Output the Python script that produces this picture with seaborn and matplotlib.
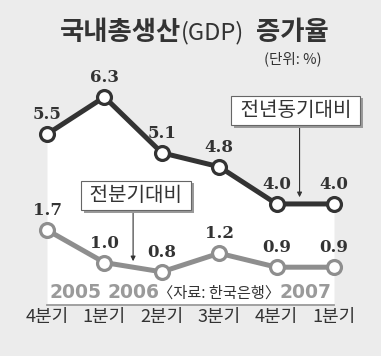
import numpy as np
import matplotlib.pyplot as plt
import matplotlib.patheffects as pe
import seaborn as sns

sns.set_style('white')
plt.rcParams['font.family'] = ['Noto Sans CJK KR', 'DejaVu Sans']

# data
quarters = ['4분기', '1분기', '2분기', '3분기', '4분기', '1분기']
yoy = [5.5, 6.3, 5.1, 4.8, 4.0, 4.0]   # 전년동기대비
qoq = [1.7, 1.0, 0.8, 1.2, 0.9, 0.9]   # 전분기대비
years = ['2005', '2006', '2007']
year_pos = [0.5, 1.5, 4.5]

W, H = 381, 356
BG = '#ececec'
DARK = '#333333'
GRAY = '#8e8e8e'
xs = np.arange(len(quarters))

fig = plt.figure(figsize=(W / 100, H / 100), dpi=100)
fig.patch.set_facecolor(BG)

# axes fills the figure down to the baseline at y=305px
base_px = 305
ax = fig.add_axes([0, 1 - base_px / H, 1, base_px / H])
ax.set_facecolor(BG)

ppu = 46.5                     # pixels per percentage point
x0, dx = 47, 57.4              # first point px, spacing px
ax.set_xlim(-x0 / dx, (W - x0) / dx)
ymax = 6.3 + 97 / ppu
ax.set_ylim(ymax - base_px / ppu, ymax)

def py(px):
    return ymax - px / ppu

# white area under the dark line
ax.fill_between(xs, yoy, py(base_px), color='white', zorder=0, lw=0)

sns.lineplot(x=xs, y=yoy, ax=ax, color=DARK, lw=3.6, marker='o', markersize=10,
             markerfacecolor='white', markeredgecolor=DARK, markeredgewidth=2.3,
             zorder=3)
for x, v in zip(xs, yoy):
    ax.annotate(f'{v:.1f}', (x, v), xytext=(0, 14), textcoords='offset points',
                ha='center', va='center', fontsize=12, fontweight='bold',
                family='DejaVu Serif', color=DARK)

# second series on a shifted twin axis (same scale)
ax2 = ax.twinx()
ymax2 = 1.7 + 230 / ppu
ax2.set_ylim(ymax2 - base_px / ppu, ymax2)
ax2.patch.set_visible(False)
sns.lineplot(x=xs, y=qoq, ax=ax2, color=GRAY, lw=3.6, marker='o', markersize=10,
             markerfacecolor='white', markeredgecolor=GRAY, markeredgewidth=2.3,
             zorder=3)
for x, v in zip(xs, qoq):
    ax2.annotate(f'{v:.1f}', (x, v), xytext=(0, 14), textcoords='offset points',
                 ha='center', va='center', fontsize=12, fontweight='bold',
                 family='DejaVu Serif', color=DARK)

for a in (ax, ax2):
    for s in ['top', 'left', 'right']:
        a.spines[s].set_visible(False)
    a.set_yticks([])
    a.set_ylabel('')
ax2.spines['bottom'].set_visible(False)
ax2.set_xticks([])

ax.spines['bottom'].set_bounds(0, 5)
ax.spines['bottom'].set_color('#9a9a9a')
ax.spines['bottom'].set_linewidth(1.3)
ax.set_xticks(xs)
ax.set_xticklabels(quarters, fontsize=13, color=DARK)
ax.tick_params(axis='x', direction='in', length=4, width=1, color='#555555', pad=2)

# callouts
shadow = [pe.withSimplePatchShadow(offset=(2, -2), shadow_rgbFace='#9a9a9a', alpha=1)]
box = dict(boxstyle='square,pad=0.22', fc='white', ec='#666666', lw=0.8)
t1 = ax.text(4.33, py(110.5), ' 전년동기대비 ', ha='center', va='center', fontsize=14.5,
             color=DARK, zorder=5, bbox=box)
t1.get_bbox_patch().set_path_effects(shadow)
ax.annotate('', xy=(4.4, py(200)), xytext=(4.4, py(124)), zorder=4,
            arrowprops=dict(arrowstyle='-|>', color=DARK, lw=0.8, mutation_scale=7))

t2 = ax.text(1.55, py(195.5), ' 전분기대비 ', ha='center', va='center', fontsize=14.5,
             color=DARK, zorder=5, bbox=box)
t2.get_bbox_patch().set_path_effects(shadow)
ax.annotate('', xy=(1.5, py(264)), xytext=(1.5, py(210)), zorder=4,
            arrowprops=dict(arrowstyle='-|>', color=DARK, lw=0.8, mutation_scale=7))

# year labels and source
for yp, yr in zip(year_pos, years):
    ax.text(yp, py(293), yr, ha='center', va='center', fontsize=13.5,
            fontweight='bold', family='DejaVu Sans', color='#9a9a9a')
ax.text(3.0, py(293), '〈자료: 한국은행〉', ha='center', va='center', fontsize=11,
        color=DARK)

# title, pieces chained left to right
t_a = fig.text(60 / W, 1 - 33 / H, '국내총생산', ha='left', va='center', fontsize=19,
               fontweight='bold', color=DARK)
t_b = ax.annotate('(GDP)', xy=(1, 0.5), xycoords=t_a, ha='left', va='center',
                  fontsize=17, color=DARK, annotation_clip=False)
ax.annotate('  증가율', xy=(1, 0.5), xycoords=t_b, ha='left', va='center',
            fontsize=19, fontweight='bold', color=DARK, annotation_clip=False)
fig.text(322 / W, 1 - 59 / H, '(단위: %)', ha='right', va='center', fontsize=10.5,
         color=DARK)

fig.savefig('out.png', dpi=100, facecolor=BG)
